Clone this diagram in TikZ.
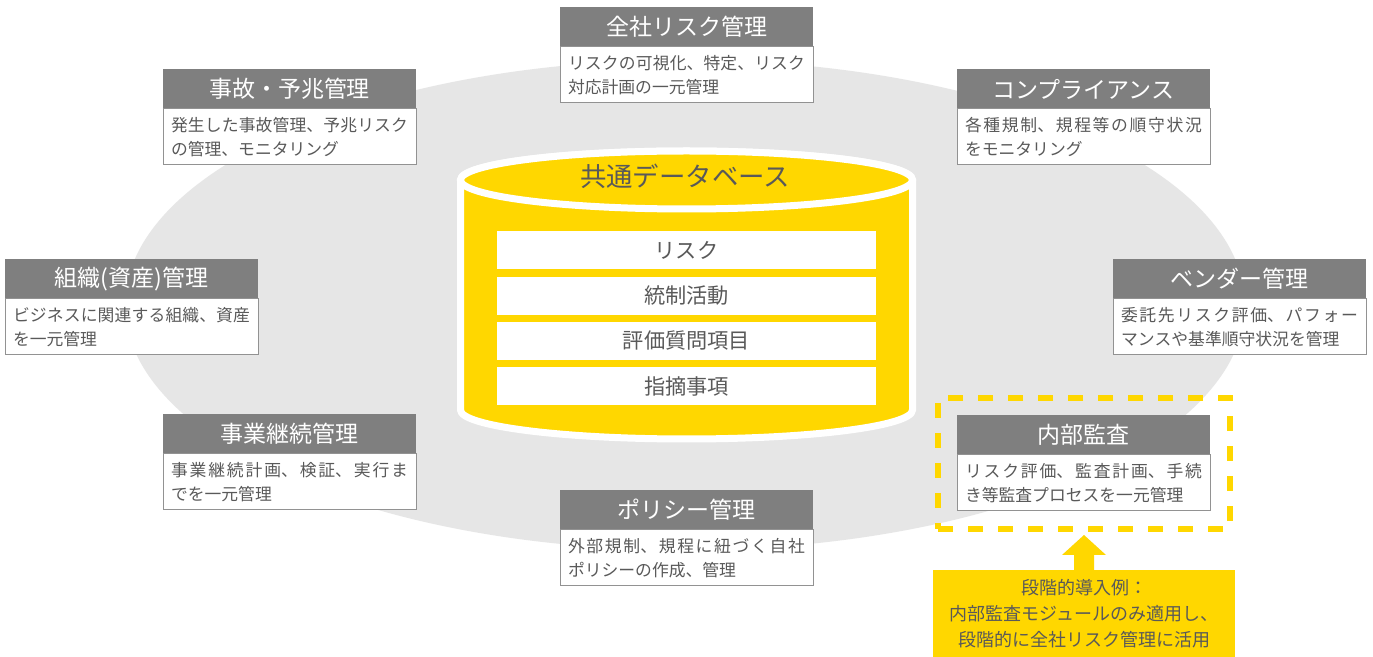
\documentclass[tikz,border=0pt]{standalone}
\usepackage{fontspec}
\setmainfont{Noto Sans CJK JP}
\usetikzlibrary{calc}
\XeTeXlinebreaklocale "ja"
\XeTeXlinebreakskip=0pt plus 2pt
\definecolor{ylw}{HTML}{FFD700}
\definecolor{hdgray}{HTML}{7F7F7F}
\definecolor{bggray}{HTML}{E6E6E6}
\definecolor{txt}{HTML}{595959}
\newcommand\modbox[6]{%
  \node[hdr] (#1h) at (#2,#3) {#4};
  \node[bdy] (#1b) at (#1h.south west) {#5\linebreak #6};
}
\begin{document}
\begin{tikzpicture}[x=0.5pt,y=-0.5pt,
  hdr/.style={fill=hdgray, text=white, font=\fontsize{11.5}{13}\selectfont,
    minimum width=126.5pt, minimum height=20pt, inner sep=0pt, outer sep=0pt,
    anchor=north west},
  bdy/.style={draw=hdgray!85, line width=0.5pt, fill=white, text=txt,
    font=\fontsize{8.4}{12}\selectfont, text width=118.5pt, inner xsep=4pt,
    inner ysep=0pt, outer sep=0pt, minimum height=28pt, align=justify,
    anchor=north west},
  bar/.style={fill=white, text=txt, font=\fontsize{10.6}{12}\selectfont,
    minimum width=189.5pt, minimum height=19pt, inner sep=0pt},
  cyl/.style={fill=ylw, draw=white, line width=3.5pt}
]
\useasboundingbox (0,0) rectangle (1373,657);
\fill[white] (0,0) rectangle (1373,657);
% background ellipse
\fill[bggray] (685,305) ellipse [x radius=280pt, y radius=122.5pt];
% database cylinder
\path[cyl] (460.5,180) -- (460.5,410)
  arc[start angle=180, end angle=360, x radius=113pt, y radius=14.5pt]
  -- (912.5,180)
  arc[start angle=0, end angle=180, x radius=113pt, y radius=14.5pt] -- cycle;
\path[cyl] (686.5,180) ellipse [x radius=113pt, y radius=14.5pt];
\node[text=txt, font=\fontsize{13.2}{15}\selectfont] (dbtitle) at (685,176) {共通データベース};
\node[bar] (risk) at (686.5,250) {リスク};
\node[bar] (ctrl) at (686.5,296) {統制活動};
\node[bar] (qa) at (686.5,341) {評価質問項目};
\node[bar] (find) at (686.5,386) {指摘事項};
% module boxes
\modbox{zensha}{560}{7}{全社リスク管理}{リスクの可視化、特定、リスク}{対応計画の一元管理}
\modbox{jiko}{163}{69}{事故・予兆管理}{発生した事故管理、予兆リスク}{の管理、モニタリング}
\modbox{comp}{957}{69}{コンプライアンス}{各種規制、規程等の順守状況}{をモニタリング}
\modbox{soshiki}{5}{259}{組織(資産)管理}{ビジネスに関連する組織、資産}{を一元管理}
\modbox{vendor}{1113}{259}{ベンダー管理}{委託先リスク評価、パフォー}{マンスや基準順守状況を管理}
\modbox{bcm}{163}{414}{事業継続管理}{事業継続計画、検証、実行ま}{でを一元管理}
\modbox{audit}{957}{415}{内部監査}{リスク評価、監査計画、手続}{き等監査プロセスを一元管理}
\modbox{policy}{560}{490}{ポリシー管理}{外部規制、規程に紐づく自社}{ポリシーの作成、管理}
% focus frame
\node[draw=ylw, line width=3pt, dash pattern=on 7.5pt off 7.5pt,
  minimum width=146pt, minimum height=65.5pt, inner sep=0pt] (focus) at (1084,463.5) {};
% note
\node[fill=ylw, text=txt, font=\fontsize{9}{13}\selectfont, align=center,
  minimum width=151pt, minimum height=43.5pt, inner sep=0pt, outer sep=0pt,
  anchor=north west] (note) at (933,570)
  {段階的導入例：\\内部監査モジュールのみ適用し、\\段階的に全社リスク管理に活用};
% arrow
\fill[ylw] ($(note.north)+(-10,0)$) -- ++(0,-15) -- ++(-12,0)
  -- ($(focus.south)+(0,3)$) -- ($(note.north)+(22,-15)$) -- ++(-12,0)
  -- ($(note.north)+(10,0)$) -- cycle;
\end{tikzpicture}
\end{document}
